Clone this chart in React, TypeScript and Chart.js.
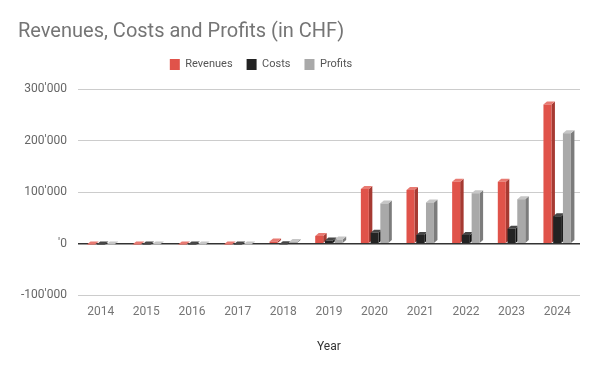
import React, { useEffect, useRef } from "react";
import { Chart, registerables } from "chart.js";

Chart.register(...registerables);

const years = ["2014", "2015", "2016", "2017", "2018", "2019", "2020", "2021", "2022", "2023", "2024"];
const revenues = [-2000, -2000, -2000, -2000, 4000, 15000, 106000, 104000, 120000, 120000, 270000];
const costs = [-2000, -2000, -2000, -2000, -1000, 6000, 21000, 17000, 17000, 29000, 53000];
const profits = [-2000, -2000, -2000, -2000, 3000, 8000, 78000, 80000, 98000, 86000, 214000];
const yTickValues = [-100000, 0, 100000, 200000, 300000];
const yTickLabels = ["-100'000", "'0", "100'000", "200'000", "300'000"];

const frontColors = ["#e0534a", "#232323", "#a9a9a9"];
const sideColors = ["#a63a32", "#111111", "#7c7c7c"];
const topColors = ["#e87a72", "#474747", "#c6c6c6"];

const depthPlugin = {
  id: "depth3d",
  beforeDatasetsDraw(chart: any) {
    const ctx = chart.ctx;
    const dx = 3.5;
    const dy = 3;
    ctx.save();
    chart.data.datasets.forEach((_: any, di: number) => {
      const meta = chart.getDatasetMeta(di);
      meta.data.forEach((bar: any) => {
        const w = bar.width;
        const left = bar.x - w / 2;
        const right = bar.x + w / 2;
        const top = Math.min(bar.y, bar.base);
        const bottom = Math.max(bar.y, bar.base);
        ctx.fillStyle = sideColors[di];
        ctx.beginPath();
        ctx.moveTo(right, top);
        ctx.lineTo(right + dx, top - dy);
        ctx.lineTo(right + dx, bottom - dy);
        ctx.lineTo(right, bottom);
        ctx.closePath();
        ctx.fill();
        ctx.fillStyle = topColors[di];
        ctx.beginPath();
        ctx.moveTo(left, top);
        ctx.lineTo(left + dx, top - dy);
        ctx.lineTo(right + dx, top - dy);
        ctx.lineTo(right, top);
        ctx.closePath();
        ctx.fill();
      });
    });
    ctx.restore();
  },
};

const legendSpacing = {
  id: "legendSpacing",
  beforeInit(chart: any) {
    const legend = chart.legend;
    if (!legend) return;
    const origFit = legend.fit;
    legend.fit = function () {
      origFit.call(this);
      this.height += 9;
    };
  },
  beforeDraw(chart: any) {
    const legend = chart.legend;
    if (!legend) return;
    legend.left -= 38;
    legend.right -= 38;
  },
};

export default function App() {
  const ref = useRef<HTMLCanvasElement>(null);
  useEffect(() => {
    document.body.style.margin = "0";
    const chart = new Chart(ref.current!, {
      type: "bar",
      data: {
        labels: years,
        datasets: [
          { label: "Revenues", data: revenues, backgroundColor: frontColors[0] },
          { label: "Costs", data: costs, backgroundColor: frontColors[1] },
          { label: "Profits", data: profits, backgroundColor: frontColors[2] },
        ],
      },
      options: {
        animation: false,
        responsive: false,
        maintainAspectRatio: false,
        layout: { padding: { left: 18, right: 20, top: 20, bottom: 17 } },
        datasets: { bar: { categoryPercentage: 0.64, barPercentage: 0.82 } },
        plugins: {
          title: {
            display: true,
            text: "Revenues, Costs and Profits (in CHF)",
            align: "start",
            color: "#757575",
            font: { family: "Roboto", size: 20, weight: "normal" },
            padding: { top: 0, bottom: 1 },
          },
          legend: {
            display: true,
            labels: {
              color: "#555555",
              font: { family: "Roboto", size: 11 },
              boxWidth: 10,
              boxHeight: 11,
              padding: 14,
            },
          },
          tooltip: { enabled: false },
        },
        scales: {
          x: {
            grid: { display: false },
            border: { display: false },
            ticks: { color: "#757575", font: { family: "Roboto", size: 12 }, padding: 2 },
            title: {
              display: true,
              text: "Year",
              color: "#333333",
              font: { family: "Roboto", size: 12 },
              padding: { top: 18, bottom: 0 },
            },
          },
          y: {
            min: -100000,
            max: 300000,
            border: { display: false },
            afterBuildTicks(axis: any) {
              axis.ticks = yTickValues.map((v) => ({ value: v }));
            },
            afterFit(axis: any) {
              axis.width -= 8;
            },
            grid: {
              drawTicks: false,
              color: (c: any) => (c.tick && c.tick.value === 0 ? "#333333" : "#cccccc"),
              lineWidth: (c: any) => (c.tick && c.tick.value === 0 ? 1.5 : 1),
            },
            ticks: {
              color: "#666666",
              font: { family: "Roboto", size: 12 },
              padding: 11,
              callback: (v: any) => {
                const i = yTickValues.indexOf(Number(v));
                return i >= 0 ? yTickLabels[i] : "";
              },
            },
          },
        },
      },
      plugins: [depthPlugin, legendSpacing],
    });
    return () => chart.destroy();
  }, []);
  return <canvas ref={ref} width={600} height={371} style={{ display: "block" }} />;
}
